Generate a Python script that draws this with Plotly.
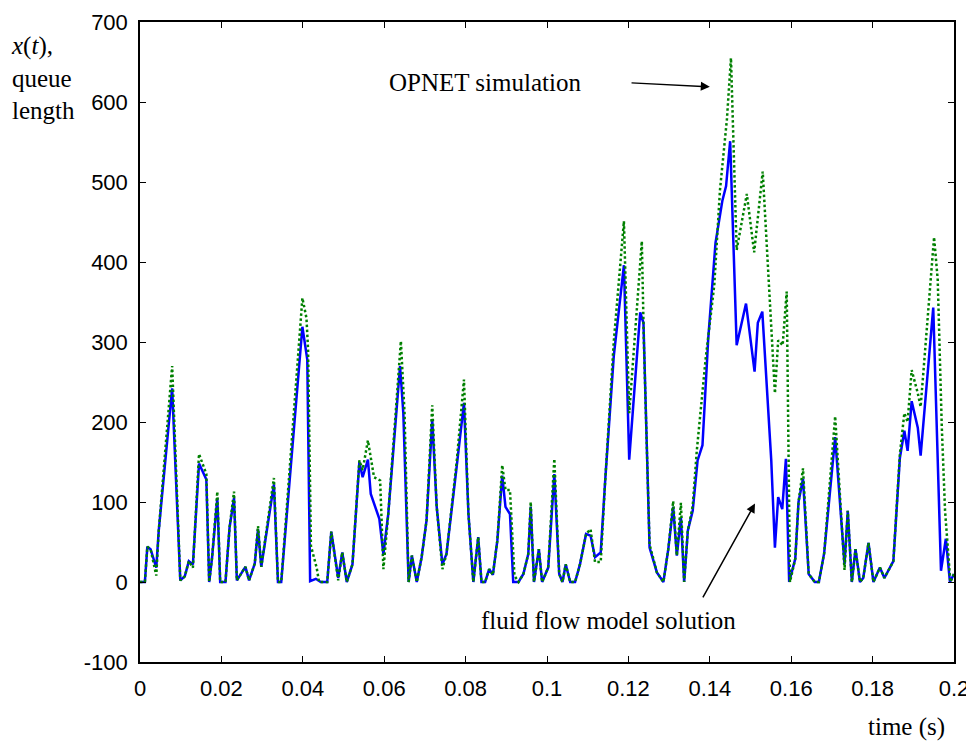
import plotly.graph_objects as go

# Fluid flow model solution (blue, solid)
t_fluid = [0.0000, 0.0012, 0.0018, 0.0026, 0.0040, 0.0046, 0.0079, 0.0099, 0.0110, 0.0120,
           0.0130, 0.0145, 0.0163, 0.0170, 0.0177, 0.0190, 0.0197, 0.0210, 0.0220, 0.0231,
           0.0238, 0.0259, 0.0268, 0.0282, 0.0290, 0.0298, 0.0329, 0.0339, 0.0347, 0.0399,
           0.0411, 0.0418, 0.0432, 0.0444, 0.0460, 0.0470, 0.0487, 0.0497, 0.0508, 0.0522,
           0.0539, 0.0547, 0.0560, 0.0567, 0.0588, 0.0598, 0.0610, 0.0639, 0.0647, 0.0660,
           0.0668, 0.0680, 0.0692, 0.0704, 0.0718, 0.0729, 0.0743, 0.0753, 0.0778, 0.0796,
           0.0807, 0.0819, 0.0831, 0.0839, 0.0848, 0.0858, 0.0867, 0.0878, 0.0890, 0.0898,
           0.0909, 0.0917, 0.0930, 0.0942, 0.0954, 0.0960, 0.0968, 0.0980, 0.0988, 0.1003,
           0.1018, 0.1030, 0.1038, 0.1046, 0.1057, 0.1069, 0.1081, 0.1096, 0.1107, 0.1118,
           0.1132, 0.1143, 0.1164, 0.1189, 0.1202, 0.1229, 0.1237, 0.1252, 0.1270, 0.1286,
           0.1298, 0.1310, 0.1319, 0.1329, 0.1337, 0.1346, 0.1358, 0.1370, 0.1382, 0.1396,
           0.1414, 0.1431, 0.1440, 0.1450, 0.1466, 0.1489, 0.1510, 0.1518, 0.1529, 0.1551,
           0.1560, 0.1568, 0.1578, 0.1587, 0.1595, 0.1610, 0.1618, 0.1629, 0.1643, 0.1658,
           0.1668, 0.1681, 0.1708, 0.1731, 0.1739, 0.1749, 0.1758, 0.1769, 0.1777, 0.1790,
           0.1802, 0.1818, 0.1829, 0.1851, 0.1867, 0.1878, 0.1886, 0.1896, 0.1911, 0.1918,
           0.1949, 0.1968, 0.1980, 0.1990, 0.2000]
q_fluid = [0, 0, 44, 41, 18, 64, 242, 2, 7, 26,
           22, 148, 128, 0, 30, 105, 0, 0, 68, 105,
           2, 19, 2, 23, 66, 19, 122, 0, 0, 319,
           278, 1, 4, 0, 0, 63, 5, 37, 0, 22,
           150, 131, 153, 110, 79, 35, 85, 270, 211, 0,
           33, 0, 31, 77, 203, 94, 22, 35, 144, 224,
           85, 0, 56, 0, 0, 16, 9, 52, 133, 94,
           85, 0, 0, 10, 35, 94, 0, 41, 0, 18,
           135, 10, 0, 22, 0, 0, 22, 60, 58, 31,
           37, 127, 282, 396, 153, 337, 324, 43, 12, 0,
           41, 94, 33, 81, 0, 64, 89, 152, 171, 303,
           424, 477, 495, 551, 296, 348, 263, 324, 338, 152,
           43, 106, 91, 154, 0, 29, 100, 129, 10, 0,
           0, 36, 181, 22, 89, 0, 41, 0, 5, 49,
           0, 18, 5, 26, 155, 189, 164, 226, 193, 158,
           343, 14, 54, 0, 10]

# OPNET simulation (green, dotted)
t_opnet = [0.0000, 0.0012, 0.0018, 0.0026, 0.0040, 0.0046, 0.0079, 0.0099, 0.0110, 0.0120,
           0.0130, 0.0145, 0.0163, 0.0170, 0.0177, 0.0190, 0.0197, 0.0210, 0.0220, 0.0231,
           0.0238, 0.0259, 0.0268, 0.0282, 0.0290, 0.0298, 0.0329, 0.0339, 0.0347, 0.0399,
           0.0409, 0.0413, 0.0420, 0.0434, 0.0440, 0.0460, 0.0470, 0.0487, 0.0497, 0.0508,
           0.0522, 0.0539, 0.0547, 0.0560, 0.0575, 0.0590, 0.0598, 0.0610, 0.0641, 0.0650,
           0.0660, 0.0668, 0.0680, 0.0692, 0.0704, 0.0718, 0.0729, 0.0743, 0.0753, 0.0778,
           0.0796, 0.0807, 0.0819, 0.0831, 0.0839, 0.0848, 0.0858, 0.0867, 0.0878, 0.0890,
           0.0898, 0.0909, 0.0920, 0.0930, 0.0942, 0.0954, 0.0960, 0.0968, 0.0980, 0.0988,
           0.1003, 0.1018, 0.1030, 0.1038, 0.1046, 0.1057, 0.1069, 0.1081, 0.1096, 0.1107,
           0.1118, 0.1132, 0.1143, 0.1164, 0.1189, 0.1202, 0.1233, 0.1238, 0.1252, 0.1270,
           0.1286, 0.1298, 0.1310, 0.1319, 0.1329, 0.1337, 0.1346, 0.1358, 0.1368, 0.1390,
           0.1411, 0.1425, 0.1442, 0.1452, 0.1466, 0.1491, 0.1509, 0.1530, 0.1560, 0.1568,
           0.1579, 0.1589, 0.1597, 0.1610, 0.1618, 0.1629, 0.1643, 0.1658, 0.1668, 0.1681,
           0.1708, 0.1731, 0.1739, 0.1749, 0.1758, 0.1769, 0.1777, 0.1790, 0.1802, 0.1818,
           0.1829, 0.1851, 0.1867, 0.1878, 0.1886, 0.1896, 0.1911, 0.1918, 0.1951, 0.1960,
           0.1970, 0.1978, 0.1986, 0.1991, 0.2000]
q_opnet = [0, 0, 44, 41, 8, 64, 270, 2, 7, 26,
           18, 160, 135, 0, 30, 113, 0, 0, 68, 113,
           2, 19, 2, 23, 70, 19, 130, 0, 0, 355,
           330, 290, 45, 18, 0, 0, 63, 2, 37, 0,
           22, 152, 140, 177, 131, 127, 16, 85, 301, 211,
           0, 33, 0, 31, 77, 221, 94, 16, 35, 150,
           253, 85, 0, 56, 0, 0, 16, 9, 52, 146,
           115, 115, 8, 0, 10, 35, 100, 0, 41, 0,
           18, 154, 10, 0, 22, 0, 0, 22, 60, 66,
           25, 25, 127, 300, 451, 211, 426, 300, 47, 12,
           0, 41, 101, 33, 99, 0, 64, 95, 164, 280,
           371, 490, 578, 655, 415, 485, 412, 513, 236, 302,
           296, 363, 0, 29, 100, 142, 10, 0, 0, 36,
           207, 15, 89, 0, 41, 0, 5, 49, 0, 18,
           5, 26, 160, 211, 200, 265, 236, 219, 431, 378,
           194, 89, 35, 0, 10]

x_ticks = [0, 0.02, 0.04, 0.06, 0.08, 0.1, 0.12, 0.14, 0.16, 0.18, 0.2]
x_tick_labels = ["0", "0.02", "0.04", "0.06", "0.08", "0.1", "0.12", "0.14", "0.16", "0.18", "0.2"]
y_ticks = [-100, 0, 100, 200, 300, 400, 500, 600, 700]
y_tick_labels = ["-100", "0", "100", "200", "300", "400", "500", "600", "700"]

serif = "Liberation Serif, Times New Roman, serif"
sans = "Liberation Sans, Arial, sans-serif"

fig = go.Figure()
fig.add_trace(go.Scatter(x=t_fluid, y=q_fluid, mode="lines",
                         line=dict(color="#0000FF", width=2.5), name="fluid flow model"))
fig.add_trace(go.Scatter(x=t_opnet, y=q_opnet, mode="lines",
                         line=dict(color="#008000", width=2.5, dash="2.5px,2.5px"), name="OPNET"))

axis_common = dict(showgrid=False, zeroline=False, showline=True, linecolor="black",
                   linewidth=1.5, mirror="ticks", ticks="inside", ticklen=6,
                   tickcolor="black", tickwidth=1, automargin=False,
                   tickfont=dict(family=sans, size=22, color="black"))

fig.update_layout(
    width=966, height=739,
    margin=dict(l=132, r=20, t=14, b=85),
    paper_bgcolor="white", plot_bgcolor="white",
    showlegend=False,
    xaxis=dict(range=[0, 0.2], tickvals=x_ticks, ticktext=x_tick_labels,
               ticklabelstandoff=6, **axis_common),
    yaxis=dict(range=[-100, 700], tickvals=y_ticks, ticktext=y_tick_labels,
               ticklabelstandoff=6, **axis_common),
    annotations=[
        dict(x=0.0848, y=624, xref="x", yref="y", text="OPNET simulation", showarrow=False,
             font=dict(family=serif, size=25, color="black")),
        dict(x=0.1400, y=619, ax=0.1204, ay=624, xref="x", yref="y", axref="x", ayref="y",
             text="", showarrow=True, arrowhead=2, arrowsize=1.2, arrowwidth=1.5, arrowcolor="black"),
        dict(x=0.115, y=-48, xref="x", yref="y", text="fluid flow model solution", showarrow=False,
             font=dict(family=serif, size=25, color="black")),
        dict(x=0.1511, y=98, ax=0.1381, ay=-21, xref="x", yref="y", axref="x", ayref="y",
             text="", showarrow=True, arrowhead=2, arrowsize=1.2, arrowwidth=1.5, arrowcolor="black"),
        dict(x=-0.161, y=0.988, xref="paper", yref="paper", xanchor="left", yanchor="top",
             align="left", showarrow=False,
             text="<i>x</i>(<i>t</i>),<br>queue<br>length",
             font=dict(family=serif, size=25, color="black")),
        dict(x=0.942, y=-0.1016, xref="paper", yref="paper", xanchor="center", yanchor="middle",
             showarrow=False, text="time (s)",
             font=dict(family=serif, size=25, color="black")),
    ],
)

fig.write_html("out.html")
